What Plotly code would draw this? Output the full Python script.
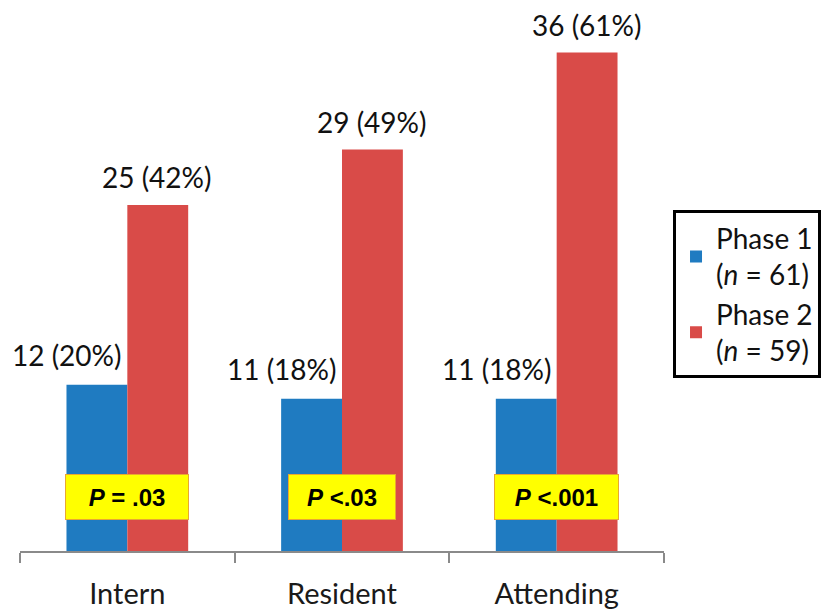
import plotly.graph_objects as go

categories = ["Intern", "Resident", "Attending"]
phase1_counts = [12, 11, 11]
phase1_pcts = [20, 18, 18]
phase2_counts = [25, 29, 36]
phase2_pcts = [42, 49, 61]
p_values = ["<b><i>P</i> = .03</b>", "<b><i>P</i> &lt;.03</b>", "<b><i>P</i> &lt;.001</b>"]
p_box_widths = [120, 104, 121]
legend_names = ["Phase 1<br>(<i>n</i> = 61)", "Phase 2<br>(<i>n</i> = 59)"]

BLUE = "#1F7BC1"
RED = "#D94B48"
LABEL_FONT = "Lato"

fig = go.Figure()
fig.add_trace(go.Bar(x=categories, y=phase1_counts, name=legend_names[0],
                     marker=dict(color=BLUE, line=dict(width=0)), legendgroup="a"))
fig.add_trace(go.Bar(x=categories, y=phase2_counts, name=legend_names[1],
                     marker=dict(color=RED, line=dict(width=0)), legendgroup="b"))

annotations = []
for i, cat in enumerate(categories):
    annotations.append(dict(
        x=cat, y=phase1_counts[i], xref="x", yref="y",
        text=f"{phase1_counts[i]} ({phase1_pcts[i]}%)", showarrow=False,
        xanchor="center", yanchor="middle", xshift=-60, yshift=30,
        font=dict(family=LABEL_FONT, size=28, color="#111111")))
    annotations.append(dict(
        x=cat, y=phase2_counts[i], xref="x", yref="y",
        text=f"{phase2_counts[i]} ({phase2_pcts[i]}%)", showarrow=False,
        xanchor="center", yanchor="middle", xshift=30, yshift=28,
        font=dict(family=LABEL_FONT, size=28, color="#111111")))
    annotations.append(dict(
        x=cat, y=0, xref="x", yref="y",
        text=p_values[i], showarrow=False,
        xanchor="center", yanchor="middle", yshift=54,
        width=p_box_widths[i], height=42, align="center",
        bgcolor="#FFFF00", bordercolor="#E8A830", borderwidth=1, borderpad=1,
        font=dict(family="Liberation Sans, Arial", size=24, color="#000000")))

fig.update_layout(
    width=825, height=610,
    margin=dict(l=20, r=161, t=0, b=57),
    paper_bgcolor="white", plot_bgcolor="white",
    barmode="group", bargap=0.433, bargroupgap=0,
    xaxis=dict(range=[-0.5, 2.5], showline=True, linecolor="#8A8A8A", linewidth=2,
               ticks="outside", tickson="boundaries", ticklen=10, tickwidth=2,
               tickcolor="#8A8A8A", showgrid=False, zeroline=False,
               tickfont=dict(family=LABEL_FONT, size=29, color="#1A1A1A"),
               ticklabelstandoff=16),
    yaxis=dict(range=[0, 39.8], visible=False, showgrid=False, zeroline=False),
    legend=dict(x=1.014, y=0.618, xanchor="left", yanchor="top",
                bordercolor="#000000", borderwidth=3, bgcolor="white",
                font=dict(family=LABEL_FONT, size=28, color="#111111"),
                tracegroupgap=16, traceorder="normal", itemsizing="constant",
                entrywidth=150, entrywidthmode="pixels"),
    annotations=annotations,
    showlegend=True,
)

fig.write_html("out.html")
